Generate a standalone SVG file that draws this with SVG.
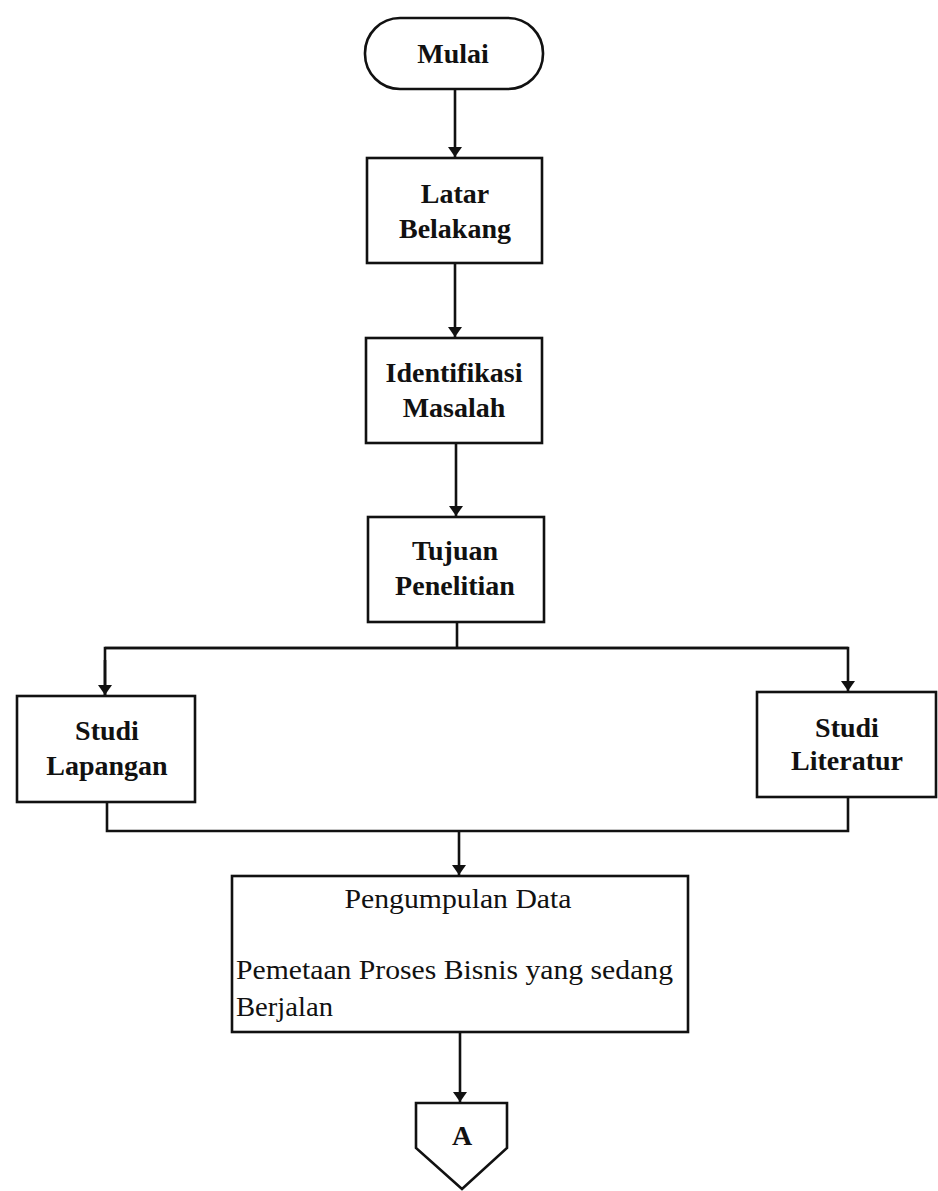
<svg xmlns="http://www.w3.org/2000/svg" width="938" height="1191" viewBox="0 0 938 1191">
<defs>
<style>
.box{fill:#fff;stroke:#111;stroke-width:2.6}
.ln{fill:none;stroke:#111;stroke-width:2.6}
.b{font-family:"Liberation Serif","Times New Roman",serif;font-size:28px;font-weight:bold;fill:#111;text-anchor:middle}
.r{font-family:"Liberation Serif","Times New Roman",serif;font-size:28px;fill:#111}
</style>
<marker id="ah" viewBox="0 0 10 14" refX="10" refY="7" markerWidth="10" markerHeight="14" markerUnits="userSpaceOnUse" orient="auto">
<path d="M0,0 L10,7 L0,14 Z" fill="#111"/>
</marker>
</defs>
<rect width="938" height="1191" fill="#fff"/>
<g id="connectors">
<line class="ln" x1="455" y1="89" x2="455" y2="157" marker-end="url(#ah)"/>
<line class="ln" x1="455" y1="263" x2="455" y2="337" marker-end="url(#ah)"/>
<line class="ln" x1="456" y1="443" x2="456" y2="516" marker-end="url(#ah)"/>
<line class="ln" x1="457" y1="622" x2="457" y2="648"/>
<polyline class="ln" points="105,695 105,648 848,648"/>
<polyline class="ln" points="105,648 848,648 848,691" marker-end="url(#ah)"/>
<line class="ln" x1="105" y1="660" x2="105" y2="695" marker-end="url(#ah)"/>
<polyline class="ln" points="107,802 107,831 848,831 848,797"/>
<line class="ln" x1="459" y1="831" x2="459" y2="875" marker-end="url(#ah)"/>
<line class="ln" x1="460" y1="1032" x2="460" y2="1102" marker-end="url(#ah)"/>
</g>
<g id="mulai">
<rect class="box" x="365" y="18" width="178" height="71" rx="35" ry="35"/>
<text class="b" x="453" y="63">Mulai</text>
</g>
<g id="latar-belakang">
<rect class="box" x="367" y="158" width="175" height="105"/>
<text class="b" x="455" y="203">Latar</text>
<text class="b" x="455" y="238">Belakang</text>
</g>
<g id="identifikasi-masalah">
<rect class="box" x="366" y="338" width="176" height="105"/>
<text class="b" x="454" y="382">Identifikasi</text>
<text class="b" x="454" y="417">Masalah</text>
</g>
<g id="tujuan-penelitian">
<rect class="box" x="368" y="517" width="176" height="105"/>
<text class="b" x="455" y="560">Tujuan</text>
<text class="b" x="455" y="595">Penelitian</text>
</g>
<g id="studi-lapangan">
<rect class="box" x="17" y="696" width="178" height="106"/>
<text class="b" x="107" y="740">Studi</text>
<text class="b" x="107" y="775">Lapangan</text>
</g>
<g id="studi-literatur">
<rect class="box" x="757" y="692" width="179" height="105"/>
<text class="b" x="847" y="737">Studi</text>
<text class="b" x="847" y="770">Literatur</text>
</g>
<g id="pengumpulan-data">
<rect class="box" x="232" y="876" width="456" height="156"/>
<text class="r" x="458" y="908" text-anchor="middle" textLength="227" lengthAdjust="spacingAndGlyphs">Pengumpulan Data</text>
<text class="r" x="236" y="979" textLength="437" lengthAdjust="spacingAndGlyphs">Pemetaan Proses Bisnis yang sedang</text>
<text class="r" x="236" y="1016" textLength="97" lengthAdjust="spacingAndGlyphs">Berjalan</text>
</g>
<g id="connector-a">
<polygon class="box" points="416,1103 507,1103 507,1148 462,1189 416,1148"/>
<text class="b" x="462" y="1145">A</text>
</g>
</svg>
